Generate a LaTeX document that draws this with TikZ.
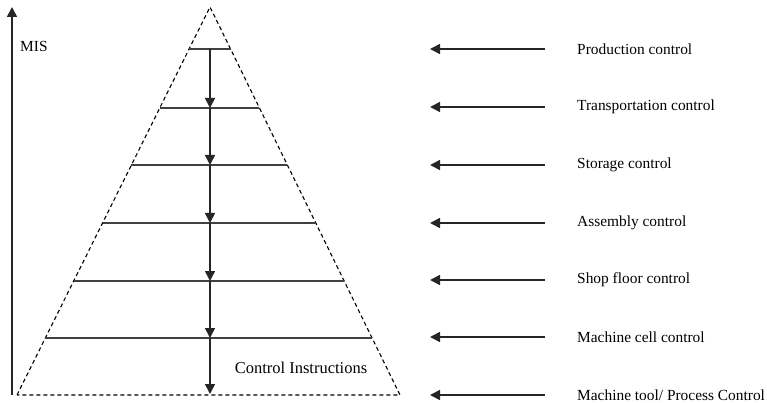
\documentclass[tikz,border=0pt]{standalone}
\usepackage{fontspec}
\setmainfont{Liberation Serif}
\usetikzlibrary{arrows.meta}
\begin{document}
\begin{tikzpicture}[x=1pt,y=-1pt,
  tri/.style={dash pattern=on 4pt off 3pt, line width=1.1pt},
  lvl/.style={line width=1.6pt, draw=black!75},
  arr/.style={line width=1.6pt, draw=black!85, -{Triangle[length=10pt,width=10pt]}},
  lbl/.style={anchor=west, inner sep=0pt, font=\fontsize{15.4}{17}\selectfont}]
\useasboundingbox (0,0) rectangle (767,403);
% triangle
\coordinate (apex) at (210,7);
\coordinate (bl) at (17,395);
\coordinate (br) at (400,395);
\draw[tri] (bl) -- (apex) -- (br) -- cycle;
% levels
\foreach \i/\y in {1/49,2/108,3/165,4/223,5/281,6/338}{
  \pgfmathsetmacro{\xl}{210-(\y-7)/388*193}
  \pgfmathsetmacro{\xr}{210+(\y-7)/388*190}
  \coordinate (l\i) at (\xl,\y);
  \coordinate (r\i) at (\xr,\y);
  \coordinate (c\i) at (210,\y);
  \draw[lvl] (l\i) -- (r\i);
}
\coordinate (c7) at (210,394);
\foreach \i/\j in {1/2,2/3,3/4,4/5,5/6,6/7}{
  \draw[arr] (c\i) -- (c\j);
}
% MIS axis
\coordinate (mb) at (12,395);
\coordinate (mt) at (12,7);
\draw[arr] (mb) -- (mt);
\node[lbl] (mis) at (20,46) {MIS};
\node[inner sep=0pt, font=\fontsize{16.5}{18}\selectfont] (ci) at (301,368) {Control Instructions};
% right labels
\foreach \i/\y/\t in {1/49/{Production control},2/107/{Transportation control},3/165/{Storage control},4/223/{Assembly control},5/280/{Shop floor control},6/337/{Machine cell control},7/395/{Machine tool/ Process Control}}{
  \coordinate (as\i) at (545,\y);
  \coordinate (ae\i) at (430,\y);
  \draw[arr] (as\i) -- (ae\i);
  \node[lbl] (t\i) at (577,\y) {\t};
}
\end{tikzpicture}
\end{document}
